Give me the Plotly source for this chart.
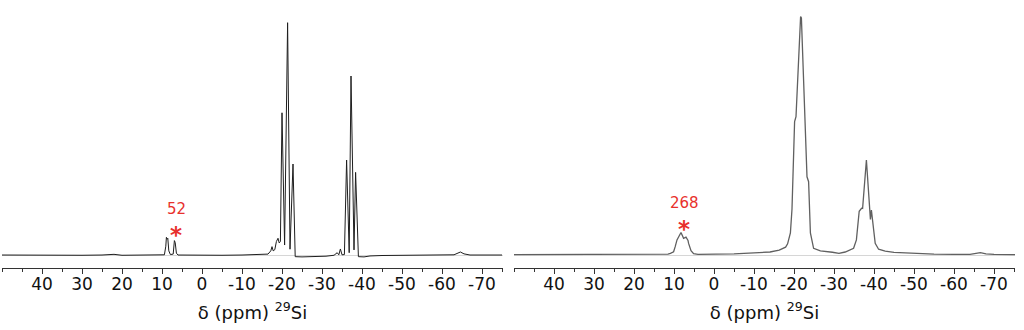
import plotly.graph_objects as go

# ---- data ----
left_ppm = [50, 45, 40, 35, 30, 25, 22, 20, 15, 12, 10, 9.4, 9.05, 8.9, 8.7, 8.55, 8.3, 7.9, 7.2, 6.9, 6.7, 6.4,
            6.0, 3, 0, -5, -10, -14, -16.5, -17.2, -17.5, -17.8, -18.2, -18.6, -19.0, -19.3, -19.6, -20.0,
            -20.65, -21.4, -22.0, -22.75, -23.3, -25, -28, -31, -33, -33.8, -34.2, -34.6, -35.0, -35.6,
            -36.15, -36.8, -37.25, -38.0, -38.4, -39.1, -40.5, -42, -45, -50, -55, -60, -63, -64.6, -65.5,
            -67, -70, -75]
left_int = [0.2, 0.1, 0.2, 0.0, 0.1, 0.2, 0.5, 0.1, 0.2, 0.1, 0.2, 0.3, 4.0, 7.8, 7.0, 7.4, 2.0, 0.4, 0.6, 6.4, 5.6, 1.0,
            0.2, 0.1, 0.2, 0.1, 0.2, 0.3, 0.6, 2.0, 3.8, 2.0, 2.5, 6.0, 7.4, 5.4, 6.0, 61.3,
            4.5, 100.0, 2.7, 39.3, -0.5, -0.6, -0.5, -0.3, 0.1, 1.2, 0.3, 2.8, 0.3, 0.4,
            41.0, 1.2, 77.1, 2.4, 35.7, -0.5, -0.6, -0.2, 0.0, 0.1, 0.2, 0.0, 0.3, 1.5, 0.7,
            0.2, 0.1, 0.2]

right_ppm = [50.5, 45, 40, 30, 20, 15, 11.5, 10.9, 10.1, 9.7, 9.25, 8.25, 7.6, 7.0, 6.5, 6.35, 5.75, 5.1, 4,
             -5, -10, -14, -16.3, -17.9, -18.4, -19.1, -19.5, -19.9, -20.15, -20.5, -21.65, -21.85,
             -23.25, -23.65, -24.1, -24.9, -25.4, -26.6, -29.6, -31.25, -32.8, -33.75, -34.9, -35.6, -36.0,
             -36.3, -36.9, -37.15, -38.1, -38.9, -39.1, -39.35, -39.9, -40.3, -41.15, -42.8, -45, -50,
             -55, -60, -64, -65.5, -66.6, -68, -70, -75.5]
right_int = [0.4, 0.4, 0.5, 0.5, 0.5, 0.5, 0.6, 0.9, 1.6, 3.8, 6.7, 9.9, 7.4, 7.9, 6.5, 5.2, 2.1, 0.8, 0.5,
             0.7, 1.0, 1.5, 2.3, 3.6, 5.0, 9.7, 20.0, 38.1, 57.5, 59.6, 102.6, 102.0,
             33.8, 31.7, 9.7, 3.1, 2.8, 2.0, 1.4, 0.95, 1.5, 2.2, 3.1, 6.7, 15.2,
             19.0, 20.3, 20.2, 41.0, 20.0, 15.5, 19.5, 12.4, 5.2, 2.7, 1.9, 1.3, 0.8,
             0.6, 0.5, 0.5, 0.9, 1.2, 0.7, 0.5, 0.4]

tick_vals = [40, 30, 20, 10, 0, -10, -20, -30, -40, -50, -60, -70]
tick_labels = ["40", "30", "20", "10", "0", "-10", "-20", "-30", "-40", "-50", "-60", "-70"]

band_labels = ["52", "268"]
band_ppm = [6.5, 7.5]
axis_title = "δ (ppm) <sup>29</sup>Si"

# ---- figure ----
fig = go.Figure()
fig.add_trace(go.Scatter(x=left_ppm, y=left_int, mode="lines", xaxis="x", yaxis="y",
                         line=dict(color="#1e1e1e", width=1), showlegend=False, hoverinfo="skip"))
fig.add_trace(go.Scatter(x=right_ppm, y=right_int, mode="lines", xaxis="x2", yaxis="y2",
                         line=dict(color="#606060", width=1.3), showlegend=False, hoverinfo="skip"))

xr = [50, -75.25]
yr = [-5.37, 109.75]
tickfont = dict(family="DejaVu Sans", size=17, color="#111111")


def xax(domain, anchor):
    return dict(domain=domain, anchor=anchor, range=xr, showgrid=False, zeroline=False,
                showline=True, linecolor="#333333", linewidth=1,
                tickmode="array", tickvals=tick_vals, ticktext=tick_labels,
                ticks="outside", ticklen=5, tickcolor="#333333", tickwidth=1,
                ticklabelstandoff=-4,
                minor=dict(tickmode="linear", tick0=0, dtick=5, ticks="outside", ticklen=3,
                           tickcolor="#333333", tickwidth=1),
                tickfont=tickfont,
                title=dict(text=axis_title, font=dict(family="DejaVu Sans", size=18, color="#111111"),
                           standoff=12))


def yax(anchor):
    return dict(range=yr, anchor=anchor, showgrid=False, showticklabels=False, ticks="",
                showline=False, zeroline=True, zerolinecolor="#d6d6d6", zerolinewidth=1)


fig.update_layout(
    width=1024, height=330,
    margin=dict(l=0, r=0, t=0, b=62),
    paper_bgcolor="white", plot_bgcolor="white",
    xaxis=xax([2 / 1024, 503 / 1024], "y"),
    xaxis2=xax([514 / 1024, 1015 / 1024], "y2"),
    yaxis=yax("x"),
    yaxis2=yax("x2"),
)

red = "#e8302c"
for i, (lab, ppm) in enumerate(zip(band_labels, band_ppm)):
    xref = "x" if i == 0 else "x2"
    yref = "y" if i == 0 else "y2"
    fig.add_annotation(x=ppm, y=20.0 if i == 0 else 22.5, xref=xref, yref=yref, text=lab,
                       showarrow=False, font=dict(family="DejaVu Sans", size=15, color=red))
    fig.add_annotation(x=ppm, y=9.0 if i == 0 else 11.5, xref=xref, yref=yref, text="<b>*</b>",
                       showarrow=False, font=dict(family="DejaVu Sans", size=23, color=red))

fig.write_html("out.html")
